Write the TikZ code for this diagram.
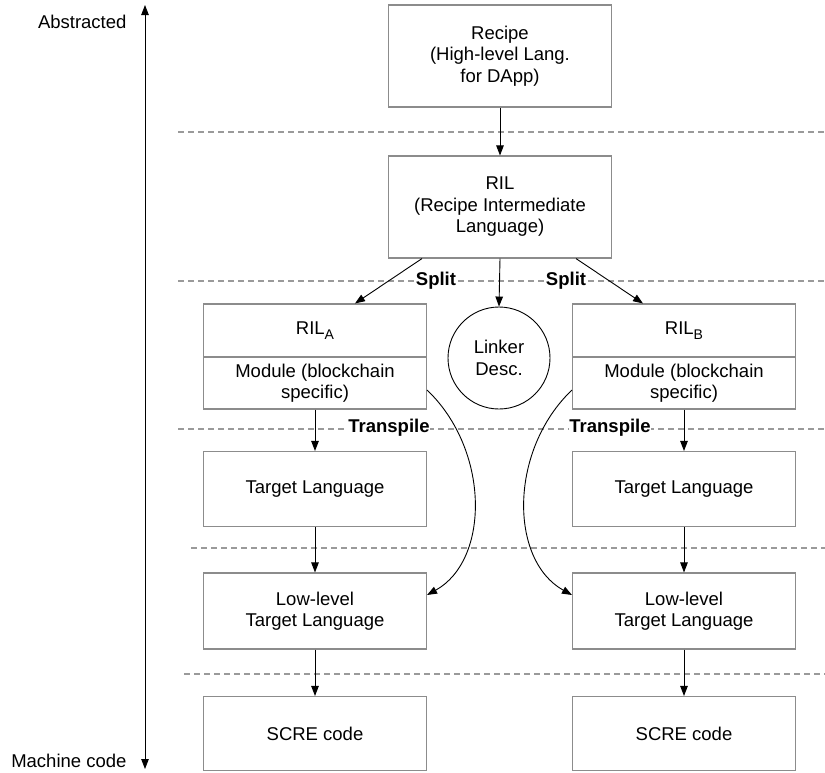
\documentclass[tikz,border=0pt]{standalone}
\usepackage{fontspec}
\setmainfont{Liberation Sans}
\usetikzlibrary{arrows.meta}
\begin{document}
\begin{tikzpicture}[x=1pt,y=-1pt,
  every node/.style={font=\fontsize{18.5}{21.5}\selectfont, align=center},
  box/.style={draw=boxgray, line width=1.1pt, rectangle, minimum width=223pt, inner sep=0pt},
  link/.style={draw=black, line width=0.9pt, -{Triangle[length=10pt,width=7.5pt]}},
  level/.style={draw=dashgray, line width=1.1pt, dash pattern=on 6pt off 4pt},
  tag/.style={font=\fontsize{18.5}{21.5}\selectfont\bfseries, fill=white, inner sep=0.5pt}
]
\definecolor{boxgray}{HTML}{8C8C8C}
\definecolor{dashgray}{HTML}{9A9A9A}
\useasboundingbox (0,0) rectangle (825,772);

% level separators
\draw[level] (178,132) -- (825,132);
\draw[level] (178,281) -- (825,281);
\draw[level] (178,429) -- (825,429);
\draw[level] (191,548) -- (825,548);
\draw[level] (184,674) -- (825,674);

% abstraction axis
\coordinate (top) at (145,5);
\coordinate (bot) at (145,769);
\draw[line width=0.9pt, {Triangle[length=10pt,width=7.5pt]}-{Triangle[length=10pt,width=7.5pt]}] (top) -- (bot);
\node[anchor=east] (abs) at (130,22) {Abstracted};
\node[anchor=east] (mach) at (130,761) {Machine code};

% top chain
\node[box, minimum height=102pt] (recipe) at (500,56) {Recipe\\(High-level Lang.\\for DApp)};
\node[box, minimum height=102pt] (ril) at (500,207) {RIL\\(Recipe Intermediate\\Language)};

% split modules
\node[box, minimum height=53pt] (rilA) at (315,330.5) {RIL\raisebox{-0.45ex}{\fontsize{14}{14}\selectfont A}};
\node[box, minimum height=52pt] (modA) at (315,383) {Module (blockchain\\specific)};
\node[box, minimum height=53pt] (rilB) at (684,330.5) {RIL\raisebox{-0.45ex}{\fontsize{14}{14}\selectfont B}};
\node[box, minimum height=52pt] (modB) at (684,383) {Module (blockchain\\specific)};
\node[draw=black, line width=0.9pt, circle, minimum size=102pt, inner sep=0pt] (linker) at (499,358) {Linker\\Desc.};

% lower stages
\node[box, minimum height=75pt] (tgtA) at (315,489) {Target Language};
\node[box, minimum height=76pt] (lowA) at (315,611) {Low-level\\Target Language};
\node[box, minimum height=74pt] (screA) at (315,733.5) {SCRE code};
\node[box, minimum height=75pt] (tgtB) at (684,489) {Target Language};
\node[box, minimum height=76pt] (lowB) at (684,611) {Low-level\\Target Language};
\node[box, minimum height=74pt] (screB) at (684,733.5) {SCRE code};

% connectors
\draw[link] (recipe) -- (ril);
\draw[link] ([xshift=-78pt]ril.south) -- ([xshift=40pt]rilA.north);
\draw[link] (ril.south) -- (linker.north);
\draw[link] ([xshift=76pt]ril.south) -- ([xshift=-41pt]rilB.north);
\draw[link] (modA) -- (tgtA);
\draw[link] (tgtA) -- (lowA);
\draw[link] (lowA) -- (screA);
\draw[link] (modB) -- (tgtB);
\draw[link] (tgtB) -- (lowB);
\draw[link] (lowB) -- (screB);
\draw[link] ([yshift=-7pt]modA.east) .. controls (490,450) and (490,560) .. ([yshift=16pt]lowA.east);
\draw[link] ([yshift=-7pt]modB.west) .. controls (509,450) and (509,560) .. ([yshift=16pt]lowB.west);

% stage labels
\node[tag] (splitA) at (436,281) {Split};
\node[tag] (splitB) at (566,281) {Split};
\node[tag] (transA) at (389,428) {Transpile};
\node[tag] (transB) at (610,428) {Transpile};
\end{tikzpicture}
\end{document}
